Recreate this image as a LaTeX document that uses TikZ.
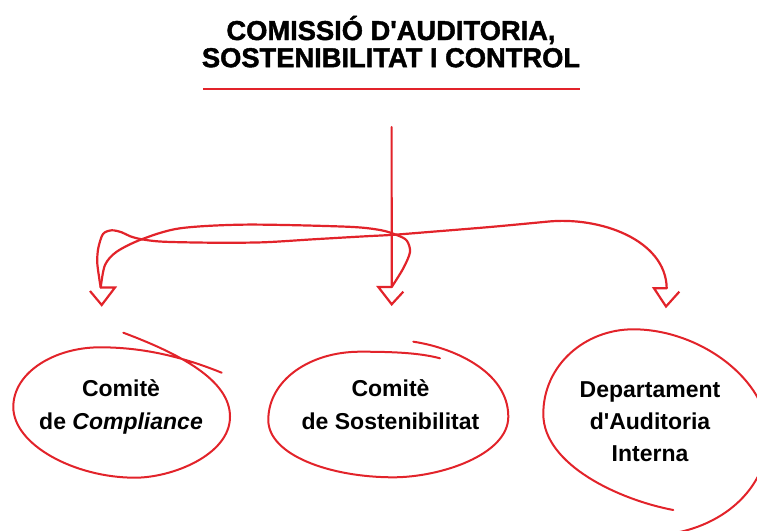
\documentclass[tikz,border=0pt]{standalone}
\usepackage{fontspec}
\newfontfamily\lsans{Liberation Sans}
\newfontfamily\heavy{Liberation Sans}[BoldFeatures={FakeBold=1.6}]
\definecolor{rd}{RGB}{226,35,42}
\begin{document}
\begin{tikzpicture}[x=1pt,y=-1pt,
  conn/.style={draw=rd,line width=2.2pt,line cap=round,line join=round},
  head/.style={draw=rd,line width=2.2pt,line join=miter,line cap=butt},
  loopline/.style={draw=rd,line width=2pt,line cap=round,line join=round},
  lbl/.style={anchor=base,inner sep=0pt,font=\lsans\bfseries\fontsize{23}{33}\selectfont},
  ttl/.style={anchor=base,inner sep=0pt,font=\heavy\bfseries\fontsize{27.3}{27}\selectfont}]
\useasboundingbox (0,0) rectangle (757,530);

% title
\node[ttl] (title) at (391,40) {\begin{tabular}[t]{@{}c@{}}COMISSIÓ D'AUDITORIA,\\SOSTENIBILITAT I CONTROL\end{tabular}};
\draw[rd,line width=2.6pt] (203,89) -- (580,89);

% connectors
\coordinate (top) at (391.6,127);
\coordinate (a1) at (100.7,287.5);
\coordinate (a2) at (391.7,287);
\coordinate (a3) at (666.7,288.3);

\draw[conn] (top) -- (a2);
\draw[conn] plot[smooth] coordinates {(a1) (99,276.7) (97.2,262) (98.3,248) (103,234) (111.7,230.3) (121.7,232.3) (130,236.2) (141.7,239.3) (163.3,241.7) (213.3,242.7) (263.3,242.3) (313.3,239.3) (363.3,236.4) (393.3,234.8) (430,231.9) (490,227) (546.7,221.7)}
  .. controls (600,216) and (666,240) .. (a3);
\draw[conn] plot[smooth] coordinates {(a1) (105,265) (116.7,251.7) (141.7,239.3) (180,228.3) (246.7,224.6) (346.7,226.7) (380,230) (396.7,235) (406.7,240.5) (410,252) (403.3,268.3) (a2)};

% arrowheads
\draw[head] (a1) -- ++(14.3,0) -- ++(-13.3,17.5) -- ++(-11.7,-14);
\draw[head] (a2) -- ++(-13.4,0) -- ++(13.4,17.3) -- ++(11.6,-12.6);
\draw[head] (a3) -- ++(-12.7,0) -- ++(12,18.2) -- ++(13.3,-14.8);

% ellipses
\draw[loopline] (123.3,332.7) .. controls (180,354) and (230,380) .. (230,416.7)
  .. controls (230,455) and (172,477.7) .. (135,477.7)
  .. controls (75,477.7) and (13.3,445) .. (13.3,407)
  .. controls (13.3,372) and (55,347.3) .. (100,347.3)
  .. controls (150,347.3) and (190,360) .. (221.7,372.7);
\draw[loopline] (413.3,341.7) .. controls (450,347) and (508.3,370) .. (508.3,416.7)
  .. controls (508.3,455) and (440,477.3) .. (393.3,477.3)
  .. controls (330,477.3) and (268.3,455) .. (268.3,420)
  .. controls (268.3,380) and (310,351.7) .. (360,351.7)
  .. controls (395,351.7) and (420,353) .. (440,358.3);
\begin{scope}
\clip (0,0) rectangle (757,530);
\draw[loopline] (673.3,510) .. controls (620,500) and (543.3,465) .. (543.3,414)
  .. controls (543.3,365) and (585,329.3) .. (633.3,329.3)
  .. controls (700,329.3) and (768,380) .. (768,435)
  .. controls (768,490) and (720,530) .. (660,535);
\end{scope}

% labels
\node[lbl] (c1) at (121,396) {\begin{tabular}[t]{@{}c@{}}Comitè\\de \textit{Compliance}\end{tabular}};
\node[lbl] (c2) at (390.5,396) {\begin{tabular}[t]{@{}c@{}}Comitè\\de Sostenibilitat\end{tabular}};
\node[lbl,font=\lsans\bfseries\fontsize{23}{32}\selectfont] (c3) at (650,397) {\begin{tabular}[t]{@{}c@{}}Departament\\d'Auditoria\\Interna\end{tabular}};
\end{tikzpicture}
\end{document}
